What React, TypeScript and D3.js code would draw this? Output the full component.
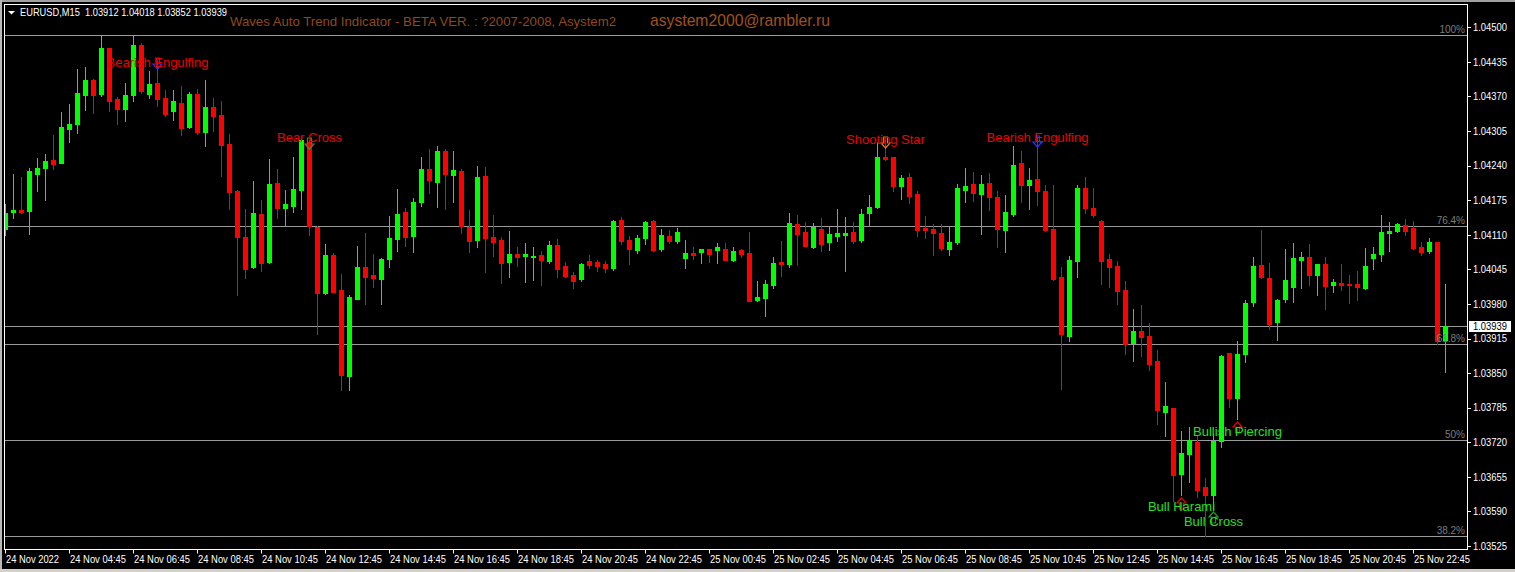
import React from "react";
import * as d3 from "d3";

// ---- Data: EURUSD M15 candles, 24 Nov 2022 02:45 .. 25 Nov 2022 23:45 ----
const opens = [
  1.04120, 1.04152, 1.04157, 1.04155, 1.04224, 1.04236, 1.04251, 1.04245, 1.04309, 1.04318,
  1.04373, 1.04400, 1.04375, 1.04461, 1.04366, 1.04347, 1.04373, 1.04467, 1.04375, 1.04395,
  1.04367, 1.04342, 1.04358, 1.04313, 1.04374, 1.04304, 1.04350, 1.04335, 1.04281, 1.04192,
  1.04106, 1.04050, 1.04149, 1.04059, 1.04207, 1.04161, 1.04165, 1.04195, 1.04284, 1.04125,
  1.04001, 1.04072, 1.04006, 1.03845, 1.03990, 1.04050, 1.04035, 1.04026, 1.04065, 1.04103,
  1.04153, 1.04108, 1.04172, 1.04234, 1.04209, 1.04268, 1.04222, 1.04230, 1.04125, 1.04100,
  1.04221, 1.04106, 1.04100, 1.04059, 1.04074, 1.04070, 1.04068, 1.04072, 1.04061, 1.04091,
  1.04051, 1.04035, 1.04027, 1.04061, 1.04059, 1.04055, 1.04048, 1.04138, 1.04100, 1.04082,
  1.04104, 1.04136, 1.04083, 1.04108, 1.04098, 1.04066, 1.04076, 1.04078, 1.04083, 1.04082,
  1.04083, 1.04063, 1.04082, 1.04076, 1.03988, 1.03991, 1.04016, 1.04059, 1.04055, 1.04130,
  1.04115, 1.04087, 1.04121, 1.04097, 1.04108, 1.04110, 1.04115, 1.04100, 1.04151, 1.04162,
  1.04256, 1.04256, 1.04202, 1.04219, 1.04187, 1.04123, 1.04121, 1.04113, 1.04083, 1.04097,
  1.04194, 1.04206, 1.04187, 1.04207, 1.04181, 1.04119, 1.04149, 1.04245, 1.04204, 1.04215,
  1.04192, 1.04121, 1.04031, 1.03920, 1.04061, 1.04198, 1.04160, 1.04136, 1.04065, 1.04051,
  1.04006, 1.03907, 1.03929, 1.03920, 1.03872, 1.03776, 1.03784, 1.03661, 1.03697, 1.03721,
  1.03635, 1.03620, 1.03723, 1.03887, 1.03804, 1.03885, 1.03983, 1.04053, 1.04028, 1.03946,
  1.03989, 1.04012, 1.04062, 1.04068, 1.04034, 1.04055, 1.04015, 1.04019, 1.04017, 1.04017,
  1.04010, 1.04066, 1.04074, 1.04113, 1.04117, 1.04129, 1.04123, 1.04087, 1.04079, 1.04096,
  1.03912,
];
const highs = [
  1.04168, 1.04224, 1.04219, 1.04235, 1.04254, 1.04262, 1.04298, 1.04341, 1.04356, 1.04422,
  1.04425, 1.04403, 1.04483, 1.04462, 1.04369, 1.04395, 1.04484, 1.04471, 1.04417, 1.04439,
  1.04382, 1.04382, 1.04390, 1.04378, 1.04384, 1.04400, 1.04368, 1.04362, 1.04300, 1.04194,
  1.04159, 1.04211, 1.04175, 1.04253, 1.04234, 1.04194, 1.04256, 1.04292, 1.04288, 1.04127,
  1.04093, 1.04076, 1.04037, 1.03997, 1.04089, 1.04113, 1.04074, 1.04066, 1.04145, 1.04196,
  1.04160, 1.04179, 1.04256, 1.04271, 1.04277, 1.04271, 1.04268, 1.04234, 1.04157, 1.04239,
  1.04238, 1.04147, 1.04106, 1.04117, 1.04087, 1.04095, 1.04087, 1.04080, 1.04098, 1.04102,
  1.04059, 1.04040, 1.04057, 1.04072, 1.04063, 1.04061, 1.04138, 1.04144, 1.04108, 1.04110,
  1.04135, 1.04137, 1.04121, 1.04119, 1.04123, 1.04100, 1.04087, 1.04084, 1.04084, 1.04095,
  1.04095, 1.04087, 1.04084, 1.04115, 1.04023, 1.04025, 1.04068, 1.04098, 1.04151, 1.04147,
  1.04134, 1.04132, 1.04142, 1.04125, 1.04159, 1.04144, 1.04134, 1.04159, 1.04185, 1.04285,
  1.04290, 1.04257, 1.04222, 1.04226, 1.04192, 1.04145, 1.04130, 1.04130, 1.04125, 1.04206,
  1.04236, 1.04228, 1.04222, 1.04226, 1.04192, 1.04185, 1.04277, 1.04268, 1.04236, 1.04292,
  1.04204, 1.04204, 1.04050, 1.04070, 1.04204, 1.04219, 1.04198, 1.04137, 1.04074, 1.04061,
  1.04023, 1.03971, 1.03978, 1.03944, 1.03893, 1.03834, 1.03785, 1.03742, 1.03748, 1.03733,
  1.03652, 1.03736, 1.03884, 1.03888, 1.03910, 1.03987, 1.04068, 1.04119, 1.04057, 1.03989,
  1.04083, 1.04095, 1.04077, 1.04093, 1.04056, 1.04068, 1.04027, 1.04055, 1.04034, 1.04042,
  1.04085, 1.04087, 1.04147, 1.04134, 1.04132, 1.04140, 1.04136, 1.04096, 1.04104, 1.04097,
  1.04018,
];
const lows = [
  1.04110, 1.04142, 1.04151, 1.04112, 1.04193, 1.04175, 1.04233, 1.04244, 1.04285, 1.04301,
  1.04345, 1.04339, 1.04371, 1.04342, 1.04318, 1.04324, 1.04362, 1.04377, 1.04367, 1.04352,
  1.04333, 1.04325, 1.04298, 1.04310, 1.04299, 1.04276, 1.04306, 1.04221, 1.04159, 1.03997,
  1.04029, 1.04048, 1.04041, 1.04057, 1.04142, 1.04127, 1.04152, 1.04159, 1.04110, 1.03924,
  1.03999, 1.04002, 1.03819, 1.03819, 1.03989, 1.03979, 1.04011, 1.03979, 1.04050, 1.04080,
  1.04089, 1.04078, 1.04164, 1.04189, 1.04162, 1.04159, 1.04172, 1.04113, 1.04078, 1.04087,
  1.04040, 1.04070, 1.04019, 1.04031, 1.04051, 1.04021, 1.04025, 1.04016, 1.04057, 1.04031,
  1.04031, 1.04010, 1.04023, 1.04048, 1.04042, 1.04040, 1.04044, 1.04093, 1.04055, 1.04076,
  1.04093, 1.04080, 1.04080, 1.04095, 1.04095, 1.04048, 1.04065, 1.04057, 1.04059, 1.04057,
  1.04062, 1.04061, 1.04068, 1.03985, 1.03985, 1.03957, 1.04010, 1.04033, 1.04050, 1.04053,
  1.04088, 1.04085, 1.04080, 1.04082, 1.04098, 1.04042, 1.04095, 1.04097, 1.04127, 1.04160,
  1.04251, 1.04192, 1.04177, 1.04170, 1.04108, 1.04104, 1.04072, 1.04082, 1.04072, 1.04093,
  1.04172, 1.04174, 1.04112, 1.04157, 1.04087, 1.04078, 1.04145, 1.04172, 1.04159, 1.04166,
  1.04118, 1.04025, 1.03820, 1.03910, 1.04031, 1.04151, 1.04144, 1.04018, 1.04012, 1.03980,
  1.03886, 1.03873, 1.03882, 1.03856, 1.03755, 1.03731, 1.03610, 1.03620, 1.03646, 1.03618,
  1.03544, 1.03595, 1.03712, 1.03787, 1.03763, 1.03870, 1.03976, 1.04028, 1.03932, 1.03913,
  1.03983, 1.03983, 1.04010, 1.04015, 1.03996, 1.03970, 1.04002, 1.04006, 1.03981, 1.03987,
  1.04009, 1.04045, 1.04060, 1.04079, 1.04115, 1.04110, 1.04084, 1.04072, 1.04076, 1.03904,
  1.03852,
];
const closes = [
  1.04150, 1.04157, 1.04153, 1.04230, 1.04236, 1.04249, 1.04243, 1.04313, 1.04319, 1.04376,
  1.04401, 1.04373, 1.04461, 1.04362, 1.04347, 1.04373, 1.04466, 1.04380, 1.04394, 1.04366,
  1.04337, 1.04362, 1.04311, 1.04375, 1.04304, 1.04351, 1.04333, 1.04279, 1.04191, 1.04105,
  1.04046, 1.04151, 1.04057, 1.04206, 1.04161, 1.04168, 1.04196, 1.04288, 1.04127, 1.04001,
  1.04072, 1.04003, 1.03846, 1.03993, 1.04050, 1.04031, 1.04028, 1.04065, 1.04104, 1.04149,
  1.04106, 1.04172, 1.04234, 1.04213, 1.04268, 1.04224, 1.04232, 1.04127, 1.04098, 1.04219,
  1.04104, 1.04097, 1.04057, 1.04074, 1.04068, 1.04074, 1.04070, 1.04063, 1.04091, 1.04046,
  1.04033, 1.04023, 1.04055, 1.04053, 1.04051, 1.04048, 1.04136, 1.04098, 1.04083, 1.04104,
  1.04134, 1.04082, 1.04110, 1.04098, 1.04115, 1.04076, 1.04072, 1.04083, 1.04074, 1.04087,
  1.04063, 1.04080, 1.04074, 1.03986, 1.03993, 1.04018, 1.04057, 1.04055, 1.04132, 1.04112,
  1.04089, 1.04125, 1.04093, 1.04112, 1.04113, 1.04113, 1.04098, 1.04149, 1.04162, 1.04256,
  1.04253, 1.04202, 1.04217, 1.04183, 1.04119, 1.04119, 1.04113, 1.04085, 1.04097, 1.04198,
  1.04202, 1.04189, 1.04206, 1.04181, 1.04121, 1.04153, 1.04241, 1.04204, 1.04213, 1.04192,
  1.04119, 1.04027, 1.03924, 1.04063, 1.04198, 1.04160, 1.04147, 1.04061, 1.04050, 1.04004,
  1.03905, 1.03929, 1.03918, 1.03867, 1.03780, 1.03789, 1.03659, 1.03699, 1.03725, 1.03631,
  1.03620, 1.03723, 1.03883, 1.03804, 1.03885, 1.03981, 1.04051, 1.04030, 1.03942, 1.03987,
  1.04025, 1.04066, 1.04068, 1.04034, 1.04055, 1.04013, 1.04021, 1.04015, 1.04015, 1.04012,
  1.04051, 1.04074, 1.04115, 1.04117, 1.04130, 1.04117, 1.04085, 1.04077, 1.04096, 1.03910,
  1.03939,
];

const timeLabels = [
  "24 Nov 2022", "24 Nov 04:45", "24 Nov 06:45", "24 Nov 08:45", "24 Nov 10:45", "24 Nov 12:45",
  "24 Nov 14:45", "24 Nov 16:45", "24 Nov 18:45", "24 Nov 20:45", "24 Nov 22:45", "25 Nov 00:45",
  "25 Nov 02:45", "25 Nov 04:45", "25 Nov 06:45", "25 Nov 08:45", "25 Nov 10:45", "25 Nov 12:45",
  "25 Nov 14:45", "25 Nov 16:45", "25 Nov 18:45", "25 Nov 20:45", "25 Nov 22:45",
];
const barsPerTimeLabel = 8;

const priceTicks = [
  1.04500, 1.04435, 1.04370, 1.04305, 1.04240, 1.04175, 1.04110, 1.04045,
  1.03980, 1.03915, 1.03850, 1.03785, 1.03720, 1.03655, 1.03590, 1.03525,
];

const levelNames = ["100%", "76.4%", "61.8%", "50%", "38.2%"];
const levelPrices = [1.04486, 1.04126, 1.03904, 1.03724, 1.03543];

const patternNames = [
  "Bearish Engulfing", "Bear Cross", "Shooting Star", "Bearish Engulfing",
  "Bull Harami", "Bull Cross", "Bullish Piercing",
];
const patternBars = [19, 38, 110, 129, 147, 151, 154];
const patternBullish = [false, false, false, false, true, true, true];
const patternLabelPrices = [1.04433, 1.04292, 1.04290, 1.04292, 1.03599, 1.03571, 1.03741];
const patternArrowColors = ["#3030ff", "#5a7a30", "#e8741c", "#3030ff", "#e00000", "#1a9a1a", "#e00000"];

const symbolHeader = "EURUSD,M15  1.03912 1.04018 1.03852 1.03939";
const indicatorTitle = "Waves Auto Trend Indicator - BETA VER. : ?2007-2008, Asystem2";
const authorEmail = "asystem2000@rambler.ru";

const W = 1515;
const H = 572;
const PL = 4.5;
const PR = 1467.5;
const PT = 4.5;
const PB = 549.5;
const FONT = "'Liberation Sans', Arial, sans-serif";
const BULL = "#00ff00";
const BEAR = "#ff0000";

export default function App() {
  const n = closes.length;
  const x = d3.scaleLinear().domain([0, n - 1]).range([5.5, 5.5 + 8 * (n - 1)]);
  const y = d3.scaleLinear().domain([1.03525, 1.045]).range([546, 27.3]);
  const ry = (p: number) => Math.round(y(p));
  const lastClose = closes[n - 1];

  const arrowPath = (cx: number, top: number, down: boolean) => {
    const s = down ? 1 : -1;
    const t = down ? top : top + 11;
    const pts = [
      [cx - 2, t], [cx + 2, t], [cx + 2, t + 6 * s], [cx + 4.5, t + 6 * s],
      [cx, t + 11 * s], [cx - 4.5, t + 6 * s], [cx - 2, t + 6 * s],
    ];
    return d3.line()(pts as [number, number][]) + "Z";
  };

  return (
    <div style={{ position: "fixed", left: 0, top: 0, width: W, height: H, background: "#000" }}>
      <svg width={W} height={H} style={{ display: "block" }} fontFamily={FONT}>
        <rect x={0} y={0} width={W} height={H} fill="#000" />
        {/* window chrome */}
        <rect x={0} y={0} width={W} height={2} fill="#a0a0a0" />
        <rect x={0} y={0} width={2} height={H} fill="#b8b8b8" />
        <rect x={0} y={569} width={W} height={3} fill="#d4d0c8" />
        <defs>
          <clipPath id="plot">
            <rect x={5} y={5} width={1462} height={544} />
          </clipPath>
        </defs>

        <g clipPath="url(#plot)">
          {/* level lines */}
          {levelPrices.map((p, i) => (
            <line key={"lv" + i} x1={5} x2={1467} y1={ry(p) + 0.5} y2={ry(p) + 0.5} stroke="#9a9a9a" strokeWidth={1} />
          ))}
          <line x1={5} x2={1467} y1={ry(lastClose) + 0.5} y2={ry(lastClose) + 0.5} stroke="#9a9a9a" strokeWidth={1} />

          {/* candles */}
          {closes.map((c, i) => {
            const o = opens[i];
            const col = c >= o ? BULL : BEAR;
            const cx = x(i);
            const hy = ry(highs[i]);
            const ly = ry(lows[i]);
            const bt = ry(Math.max(o, c));
            const bb = ry(Math.min(o, c));
            return (
              <g key={"c" + i}>
                <rect x={cx - 0.5} y={hy} width={1} height={Math.max(1, ly - hy + 1)} fill={col} />
                <rect x={cx - 2.5} y={bt} width={5} height={Math.max(1, bb - bt + 1)} fill={col} />
              </g>
            );
          })}

          {/* level labels */}
          {levelPrices.map((p, i) => (
            <text key={"ll" + i} x={1465} y={ry(p) - 2} textAnchor="end" fontSize={10} fill="#7c7c7c">
              {levelNames[i]}
            </text>
          ))}

          {/* pattern arrows and labels */}
          {patternBars.map((b, i) => {
            const cx = x(b);
            const bull = patternBullish[i];
            const top = bull ? ry(lows[b]) + 3 : ry(highs[b]) - 2;
            return (
              <path key={"pa" + i} d={arrowPath(cx, top, !bull)} fill="none" stroke={patternArrowColors[i]} strokeWidth={1.2} />
            );
          })}
          {patternBars.map((b, i) => {
            const bull = patternBullish[i];
            return (
              <text key={"pt" + i} x={x(b)} y={y(patternLabelPrices[i]) + 4.5} textAnchor="middle" fontSize={13} fill={bull ? "#22e022" : "#f00000"}>
                {patternNames[i]}
              </text>
            );
          })}
        </g>

        {/* frame */}
        <rect x={PL} y={PT} width={PR - PL} height={PB - PT} fill="none" stroke="#ffffff" strokeWidth={1} />

        {/* header */}
        <path d="M8,11 L15,11 L11.5,14.5 Z" fill="#ffffff" />
        <text x={20} y={16} fontSize={10.5} fill="#ffffff" textLength={207} lengthAdjust="spacingAndGlyphs" style={{ whiteSpace: "pre" }}>
          {symbolHeader}
        </text>
        <text x={230} y={25.5} fontSize={13.5} fill="#8e4a1a" textLength={386} lengthAdjust="spacingAndGlyphs">
          {indicatorTitle}
        </text>
        <text x={650} y={25.5} fontSize={17} fill="#a0521c" textLength={180} lengthAdjust="spacingAndGlyphs">
          {authorEmail}
        </text>

        {/* price axis */}
        {priceTicks.map((p, i) => (
          <g key={"pk" + i}>
            <line x1={1467} x2={1471} y1={ry(p) + 0.5} y2={ry(p) + 0.5} stroke="#ffffff" />
            <text x={1473} y={y(p) + 3.8} fontSize={10.5} fill="#ffffff" textLength={34} lengthAdjust="spacingAndGlyphs">
              {p.toFixed(5)}
            </text>
          </g>
        ))}
        <rect x={1469} y={ry(lastClose) - 5} width={42} height={11} fill="#ffffff" />
        <text x={1490} y={y(lastClose) + 4} fontSize={10.5} fill="#000000" textAnchor="middle" textLength={34} lengthAdjust="spacingAndGlyphs">
          {lastClose.toFixed(5)}
        </text>

        {/* time axis */}
        {timeLabels.map((t, k) => {
          const tx = Math.floor(x(k * barsPerTimeLabel));
          return (
            <g key={"tk" + k}>
              <line x1={tx + 0.5} x2={tx + 0.5} y1={549} y2={553.5} stroke="#ffffff" />
              <text x={tx + 1} y={563} fontSize={10} fill="#ffffff" textLength={k === 0 ? 53 : 56} lengthAdjust="spacingAndGlyphs">
                {t}
              </text>
            </g>
          );
        })}
      </svg>
    </div>
  );
}
